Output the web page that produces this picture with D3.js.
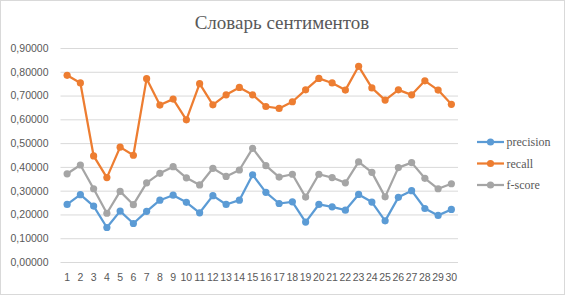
<!DOCTYPE html>
<html>
<head>
<meta charset="utf-8">
<script src="https://cdn.jsdelivr.net/npm/d3@7"></script>
<style>
  body { margin: 0; background: #fff; }
  svg { display: block; }
  .tick line { stroke: #d9d9d9; }
  .domain { display: none; }
</style>
</head>
<body>
<svg width="565" height="295"></svg>
<script>
// chart data
const title = 'Словарь сентиментов';
const categories = d3.range(1, 31).map(String);
const yTicks = [0, 0.1, 0.2, 0.3, 0.4, 0.5, 0.6, 0.7, 0.8, 0.9];
const seriesNames = ['precision', 'recall', 'f-score'];
const seriesColors = ['#5b9bd5', '#ed7d31', '#a5a5a5'];

const precision = [0.242, 0.283, 0.235, 0.145, 0.214, 0.162, 0.213, 0.260, 0.281, 0.251,
  0.207, 0.279, 0.242, 0.260, 0.367, 0.293, 0.246, 0.253, 0.168, 0.242,
  0.232, 0.218, 0.284, 0.252, 0.173, 0.272, 0.300, 0.225, 0.196, 0.221];
const recall = [0.785, 0.753, 0.446, 0.355, 0.483, 0.449, 0.771, 0.660, 0.685, 0.598,
  0.750, 0.661, 0.703, 0.734, 0.703, 0.654, 0.646, 0.674, 0.724, 0.772,
  0.753, 0.723, 0.823, 0.732, 0.681, 0.724, 0.703, 0.762, 0.723, 0.663];
const fscore = [0.371, 0.408, 0.308, 0.205, 0.297, 0.241, 0.333, 0.373, 0.401, 0.354,
  0.324, 0.394, 0.360, 0.387, 0.478, 0.405, 0.357, 0.369, 0.273, 0.369,
  0.355, 0.333, 0.421, 0.377, 0.274, 0.397, 0.418, 0.352, 0.308, 0.329];

const series = [precision, recall, fscore];

const svg = d3.select('svg');
const W = 565, H = 295;
const margin = { top: 48, left: 60.5, right: 107, bottom: 33 };
const width = W - margin.left - margin.right;
const height = H - margin.top - margin.bottom;

// outer frame
svg.append('rect')
  .attr('x', 0.5).attr('y', 0.5)
  .attr('width', W - 1).attr('height', H - 1)
  .attr('fill', '#fff').attr('stroke', '#d9d9d9');

svg.append('text')
  .attr('x', 282).attr('y', 29)
  .attr('text-anchor', 'middle')
  .attr('font-family', 'Liberation Serif, serif')
  .attr('font-size', 19)
  .attr('fill', '#595959')
  .text(title);

const g = svg.append('g')
  .attr('transform', 'translate(' + margin.left + ',' + margin.top + ')');

const x = d3.scaleBand().domain(categories).range([0, width]);
const y = d3.scaleLinear().domain([0, 0.9]).range([height, 0]);

const fmt = d => d3.format('.5f')(d).replace('.', ',');

g.append('g')
  .call(d3.axisLeft(y).tickValues(yTicks).tickSize(-width).tickFormat(fmt).tickPadding(12))
  .call(a => a.selectAll('text')
    .attr('fill', '#595959')
    .attr('font-family', 'Liberation Sans, sans-serif')
    .attr('font-size', 10.5));

g.append('g')
  .attr('transform', 'translate(0,' + height + ')')
  .call(d3.axisBottom(x).tickSize(0).tickPadding(12))
  .call(a => a.selectAll('text')
    .attr('fill', '#595959')
    .attr('font-family', 'Liberation Sans, sans-serif')
    .attr('font-size', 10.5));

const cx = (d, i) => x(categories[i]) + x.bandwidth() / 2;

const line = d3.line()
  .x((d, i) => cx(d, i))
  .y(d => y(d));

series.forEach((s, k) => {
  g.append('path')
    .datum(s)
    .attr('fill', 'none')
    .attr('stroke', seriesColors[k])
    .attr('stroke-width', 2.25)
    .attr('stroke-linejoin', 'round')
    .attr('d', line);

  g.selectAll('.pt' + k)
    .data(s)
    .enter()
    .append('circle')
    .attr('class', 'pt' + k)
    .attr('cx', (d, i) => cx(d, i))
    .attr('cy', d => y(d))
    .attr('r', 3.6)
    .attr('fill', seriesColors[k]);
});

// legend
const legend = svg.append('g').attr('transform', 'translate(477,142)');
seriesNames.forEach((name, k) => {
  const row = legend.append('g').attr('transform', 'translate(0,' + (k * 21.5) + ')');
  row.append('line')
    .attr('x1', 0).attr('x2', 27)
    .attr('stroke', seriesColors[k]).attr('stroke-width', 2.25);
  row.append('circle')
    .attr('cx', 13.5).attr('r', 3.6).attr('fill', seriesColors[k]);
  row.append('text')
    .attr('x', 29.5).attr('dy', '0.35em')
    .attr('font-family', 'Liberation Serif, serif')
    .attr('font-size', 12)
    .attr('fill', '#595959')
    .text(name);
});
</script>
</body>
</html>
